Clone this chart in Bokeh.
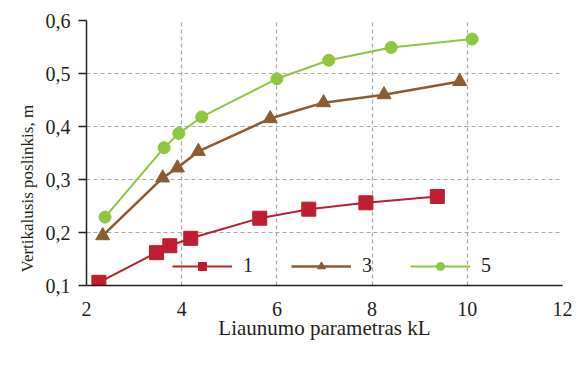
from bokeh.plotting import figure
from bokeh.models import FixedTicker, Legend, LegendItem, Range1d, Title
from bokeh.embed import file_html
from bokeh.resources import INLINE

# Data
x1 = [2.26, 3.47, 3.75, 4.19, 5.64, 6.67, 7.87, 9.37]
y1 = [0.106, 0.162, 0.175, 0.189, 0.227, 0.244, 0.256, 0.268]
x3 = [2.34, 3.60, 3.91, 4.35, 5.86, 6.98, 8.25, 9.84]
y3 = [0.194, 0.303, 0.322, 0.353, 0.415, 0.445, 0.460, 0.485]
x5 = [2.39, 3.63, 3.94, 4.42, 6.00, 7.09, 8.40, 10.10]
y5 = [0.229, 0.360, 0.387, 0.418, 0.490, 0.525, 0.549, 0.565]
series_names = ["1", "3", "5"]
x_ticks = [2, 4, 6, 8, 10, 12]
y_ticks = [0.1, 0.2, 0.3, 0.4, 0.5, 0.6]
y_tick_labels = ["0,1", "0,2", "0,3", "0,4", "0,5", "0,6"]
x_label = "Liaunumo parametras kL"
y_label = "Vertikalusis poslinkis,  m"

FONT = "Liberation Serif"
RED = "#BE1E2D"
BROWN = "#8C5B33"
GREEN = "#8DC63F"
GRID = "#A8A8A8"
INK = "#231F20"

p = figure(frame_width=476, frame_height=265, output_backend="svg", toolbar_location=None,
           x_range=Range1d(2, 12), y_range=Range1d(0.1, 0.6),
           min_border_left=86, min_border_right=18, min_border_top=20, min_border_bottom=0)
p.outline_line_color = None
p.background_fill_color = "white"

for ax in (p.xaxis[0], p.yaxis[0]):
    ax.axis_line_color = INK
    ax.axis_line_width = 1.5
    ax.major_tick_line_color = INK
    ax.major_tick_line_width = 1.5
    ax.minor_tick_line_color = None
    ax.major_label_text_font = FONT
    ax.major_label_text_font_size = "20px"
    ax.major_label_text_color = INK
    ax.axis_label_text_font = FONT
    ax.axis_label_text_font_style = "normal"
    ax.axis_label_text_color = INK

p.xaxis.ticker = FixedTicker(ticks=x_ticks)
p.yaxis.ticker = FixedTicker(ticks=y_ticks)
p.yaxis.major_label_overrides = {t: l for t, l in zip(y_ticks, y_tick_labels)}
p.xaxis.major_tick_out = 0
p.xaxis.major_tick_in = 0
p.xaxis.major_label_standoff = 16
p.yaxis.major_tick_out = 8
p.yaxis.major_tick_in = 0
p.yaxis.major_label_standoff = 8

p.xaxis.axis_label = x_label
p.xaxis.axis_label_text_font_size = "21px"
p.xaxis.axis_label_standoff = -3

# y-axis title anchored at its bottom end, as in the reference
p.add_layout(Title(text=y_label, align="left", offset=13, standoff=12,
                   text_font=FONT, text_font_size="17px", text_font_style="normal",
                   text_color=INK), "left")

for g in (p.xgrid[0], p.ygrid[0]):
    g.grid_line_color = GRID
    g.grid_line_dash = "4 3"
    g.grid_line_width = 1.2

r1l = p.line(x1, y1, line_color=RED, line_width=2)
r1m = p.scatter(x1, y1, marker="square", size=14, fill_color=RED, line_color=RED)
r3l = p.line(x3, y3, line_color=BROWN, line_width=2.5)
r3m = p.scatter(x3, y3, marker="triangle", size=14, fill_color=BROWN, line_color=BROWN)
r5l = p.line(x5, y5, line_color=GREEN, line_width=2)
r5m = p.scatter(x5, y5, marker="circle", size=12, fill_color=GREEN, line_color=GREEN)

legend = Legend(items=[LegendItem(label=series_names[0], renderers=[r1l, r1m]),
                       LegendItem(label=series_names[1], renderers=[r3l, r3m]),
                       LegendItem(label=series_names[2], renderers=[r5l, r5m])],
                orientation="horizontal", location=(86, 8),
                glyph_width=60, glyph_height=20, label_standoff=11, label_width=10,
                spacing=38, padding=0, margin=0, border_line_color=None,
                background_fill_alpha=0,
                label_text_font=FONT, label_text_font_size="20px", label_text_color=INK)
p.add_layout(legend, "center")

open("out.html", "w").write(file_html(p, INLINE))
